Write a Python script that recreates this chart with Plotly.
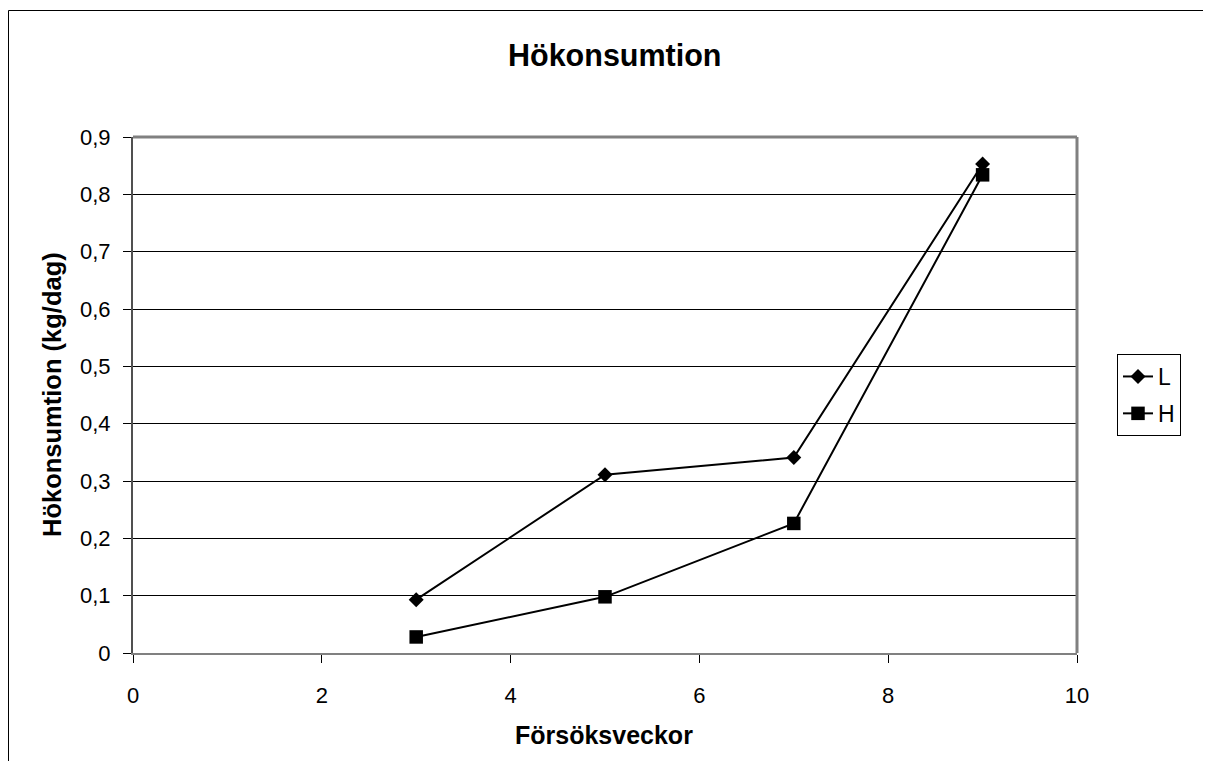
import plotly.graph_objects as go

weeks = [3, 5, 7, 9]
L_values = [0.093, 0.311, 0.341, 0.853]
H_values = [0.028, 0.098, 0.226, 0.834]
y_ticks = [0, 0.1, 0.2, 0.3, 0.4, 0.5, 0.6, 0.7, 0.8, 0.9]
y_tick_labels = ["0", "0,1", "0,2", "0,3", "0,4", "0,5", "0,6", "0,7", "0,8", "0,9"]
x_ticks = [0, 2, 4, 6, 8, 10]

OFF = 8  # page body margin
W, H = 1211 - 2 * OFF, 769 - 2 * OFF
ml, mt = 133 - OFF, 137 - OFF
pw, ph = 944, 516
mr = W - ml - pw
mb = H - mt - ph

def px_x(p):
    return (p - OFF - ml) / pw

def px_y(p):
    return (mt + ph - (p - OFF)) / ph

font = "Liberation Sans, Arial, sans-serif"

fig = go.Figure()
fig.add_trace(go.Scatter(x=weeks, y=L_values, name="L", mode="lines+markers",
                         legendgroup="L",
                         line=dict(color="black", width=2),
                         marker=dict(symbol="diamond", size=11.5, color="black")))
fig.add_trace(go.Scatter(x=weeks, y=H_values, name="H", mode="lines+markers",
                         legendgroup="H",
                         line=dict(color="black", width=2),
                         marker=dict(symbol="square", size=13.5, color="black")))

fig.update_layout(
    width=W, height=H,
    margin=dict(l=ml, r=mr, t=mt, b=mb, autoexpand=False),
    paper_bgcolor="white", plot_bgcolor="white",
    font=dict(family=font, size=22, color="black"),
    showlegend=True,
    legend=dict(x=px_x(1117), xanchor="left", y=0.5, yanchor="middle",
                bordercolor="black", borderwidth=1, bgcolor="white",
                font=dict(size=23), tracegroupgap=4, traceorder="grouped",
                itemwidth=30),
    xaxis=dict(range=[0, 10], tickvals=x_ticks, ticktext=[str(v) for v in x_ticks],
               showgrid=False, zeroline=False, showline=True, linecolor="#808080",
               linewidth=2, ticks="outside", ticklen=8, tickcolor="black", tickwidth=1,
               tickfont=dict(size=22), ticklabelstandoff=14),
    yaxis=dict(range=[0, 0.9], tickvals=y_ticks, ticktext=y_tick_labels,
               showgrid=True, gridcolor="black", gridwidth=1, zeroline=False,
               showline=True, linecolor="#505050", linewidth=2, ticks="outside",
               ticklen=8, tickcolor="black", tickwidth=1, tickfont=dict(size=22),
               ticklabelstandoff=8),
    annotations=[
        dict(text="<b>Hökonsumtion</b>", x=px_x(615), y=px_y(55), xref="paper", yref="paper",
             showarrow=False, font=dict(size=30.5), xanchor="center", yanchor="middle"),
        dict(text="<b>Försöksveckor</b>", x=px_x(604), y=px_y(735), xref="paper", yref="paper",
             showarrow=False, font=dict(size=25), xanchor="center", yanchor="middle"),
        dict(text="<b>Hökonsumtion (kg/dag)</b>", x=px_x(52), y=px_y(395), xref="paper",
             yref="paper", showarrow=False, font=dict(size=25.5), textangle=-90,
             xanchor="center", yanchor="middle"),
    ],
    shapes=[
        dict(type="line", xref="paper", yref="paper", x0=0, x1=1, y0=1, y1=1,
             line=dict(color="#808080", width=3)),
        dict(type="line", xref="paper", yref="paper", x0=1, x1=1, y0=0, y1=1,
             line=dict(color="#808080", width=3)),
        # outer chart frame: left and top edges
        dict(type="line", xref="paper", yref="paper", x0=px_x(8.5), x1=px_x(8.5),
             y0=px_y(769), y1=px_y(10.5), line=dict(color="black", width=1)),
        dict(type="line", xref="paper", yref="paper", x0=px_x(8.5), x1=px_x(1211),
             y0=px_y(10.5), y1=px_y(10.5), line=dict(color="black", width=1)),
    ],
)

fig.write_html("out.html")
